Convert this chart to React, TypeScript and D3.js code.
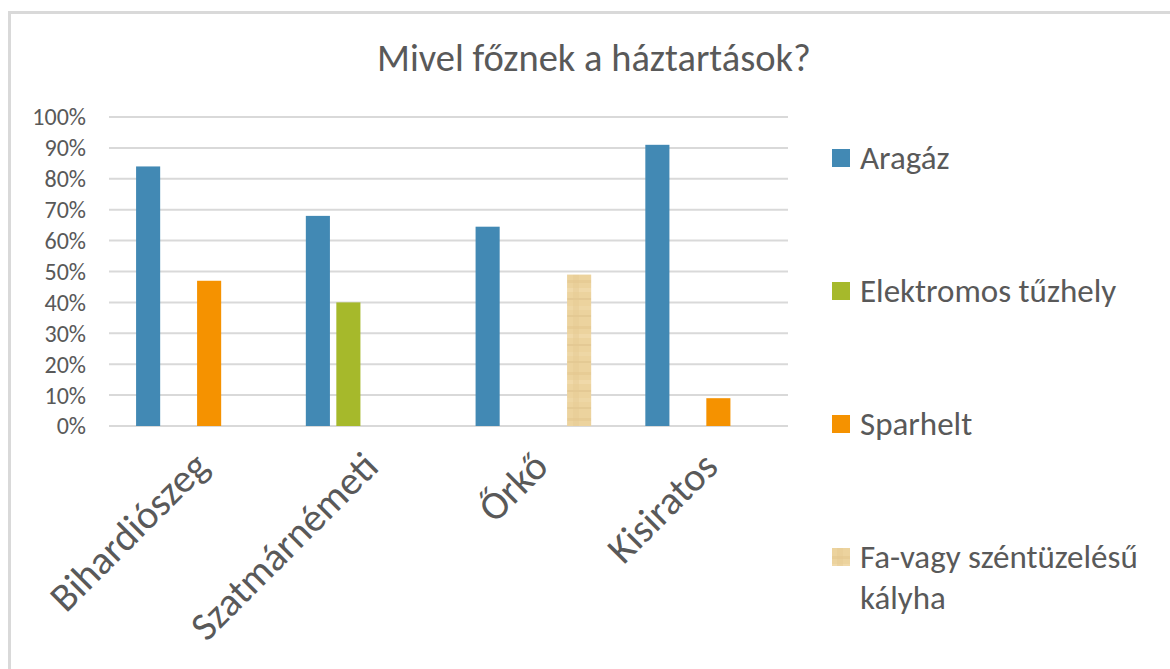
import React from 'react';
import * as d3 from 'd3';

// chart data
const categories = ['Bihardiószeg', 'Szatmárnémeti', 'Őrkő', 'Kisiratos'];
const seriesNames = ['Aragáz', 'Elektromos tűzhely', 'Sparhelt', 'Fa-vagy széntüzelésű kályha'];
const aragaz = [0.84, 0.68, 0.645, 0.91];
const elektromos = [0, 0.4, 0, 0];
const sparhelt = [0.47, 0, 0, 0.09];
const fa = [0, 0, 0.49, 0];
const yTicks = [0, 0.1, 0.2, 0.3, 0.4, 0.5, 0.6, 0.7, 0.8, 0.9, 1];

const seriesValues = [aragaz, elektromos, sparhelt, fa];
const colors = ['#4289b4', '#a6b92b', '#f59200', 'url(#parchment)'];

const FONT = 'Carlito, Calibri, Lato, sans-serif';
const TEXT = '#595959';

export default function App() {
  const width = 1170;
  const height = 669;
  const plot = { left: 109, right: 788, top: 117, bottom: 426 };

  const x0 = d3.scaleBand<string>().domain(categories).range([plot.left, plot.right]);
  const groupWidth = 122;
  const x1 = d3.scaleBand<number>().domain(d3.range(seriesNames.length)).range([0, groupWidth]);
  const barWidth = x1.bandwidth() * 0.79;
  const y = d3.scaleLinear().domain([0, 1]).range([plot.bottom, plot.top]);
  const fmt = d3.format('.0%');

  const legendY = d3.scalePoint<string>().domain(seriesNames).range([158, 557]);

  return (
    <svg width={width} height={height} style={{ position: 'fixed', left: 0, top: 0, background: '#fff' }}>
      <defs>
        <pattern id="parchment" patternUnits="userSpaceOnUse" width="24" height="46">
          <rect width="24" height="46" fill="#ecd39e" />
          <rect y="4" width="24" height="3" fill="#e4c890" opacity="0.6" />
          <rect y="12" width="24" height="4" fill="#f1dbab" opacity="0.8" />
          <rect y="22" width="24" height="2" fill="#dcc08a" opacity="0.5" />
          <rect y="30" width="24" height="4" fill="#efd8a6" opacity="0.8" />
          <rect y="39" width="24" height="2" fill="#e0c48d" opacity="0.6" />
          <rect x="0" width="3" height="46" fill="#e3c892" opacity="0.4" />
          <rect x="21" width="3" height="46" fill="#e3c892" opacity="0.4" />
        </pattern>
      </defs>

      {/* chart border */}
      <rect x={9.5} y={12.5} width={1200} height={700} fill="none" stroke="#d9d9d9" strokeWidth={3} />

      <text x={594} y={71} textAnchor="middle" fontFamily={FONT} fontSize={38.5} fill={TEXT}>
        Mivel főznek a háztartások?
      </text>

      {/* gridlines + y labels */}
      {yTicks.map(t => (
        <g key={t}>
          <line x1={plot.left} x2={plot.right} y1={y(t)} y2={y(t)} stroke="#d9d9d9" strokeWidth={2} />
          <text x={86} y={y(t)} dy="0.35em" textAnchor="end" fontFamily={FONT} fontSize={24} fill={TEXT}>
            {fmt(t)}
          </text>
        </g>
      ))}

      {/* bars */}
      {categories.map((c, ci) => {
        const gx = x0(c)! + (x0.bandwidth() - groupWidth) / 2;
        return (
          <g key={c}>
            {seriesValues.map((vals, si) =>
              vals[ci] > 0 ? (
                <rect
                  key={si}
                  x={gx + x1(si)! + (x1.bandwidth() - barWidth) / 2}
                  y={y(vals[ci])}
                  width={barWidth}
                  height={y(0) - y(vals[ci])}
                  fill={colors[si]}
                />
              ) : null
            )}
          </g>
        );
      })}

      {/* category labels */}
      {categories.map(c => {
        const cx = x0(c)! + x0.bandwidth() / 2;
        return (
          <text
            key={c}
            transform={`translate(${cx + 7},${459}) rotate(-45)`}
            textAnchor="end"
            dy="0.35em"
            fontFamily={FONT}
            fontSize={40}
            fill={TEXT}
          >
            {c}
          </text>
        );
      })}

      {/* legend */}
      {seriesNames.map((s, si) => {
        const ly = legendY(s)!;
        const lines = si === 3 ? ['Fa-vagy széntüzelésű', 'kályha'] : [s];
        return (
          <g key={s}>
            <rect x={832} y={ly - 9} width={18} height={18} fill={colors[si]} />
            {lines.map((ln, li) => (
              <text key={ln} x={860} y={ly + 11 + li * 41} fontFamily={FONT} fontSize={33} fill={TEXT}>
                {ln}
              </text>
            ))}
          </g>
        );
      })}
    </svg>
  );
}
